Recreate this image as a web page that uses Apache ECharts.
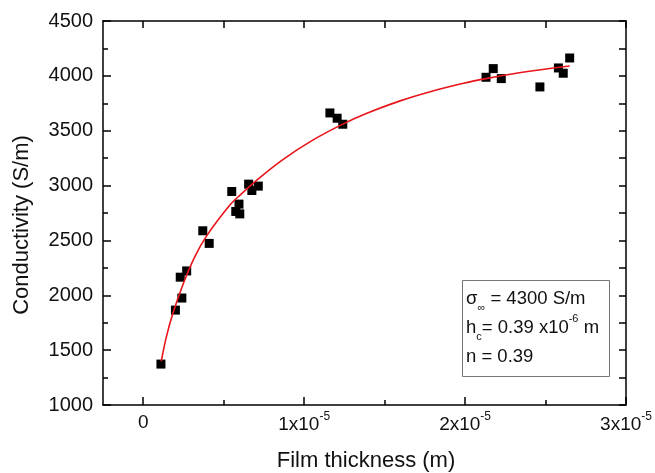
<!DOCTYPE html>
<html>
<head>
<meta charset="utf-8">
<script src="https://cdn.jsdelivr.net/npm/echarts@6/dist/echarts.min.js"></script>
<style>html,body{margin:0;padding:0;background:#fff;}#c{width:655px;height:473px;}</style>
</head>
<body>
<div id="c"></div>
<script>
// Measured points: film thickness (m) and conductivity (S/m)
const thickness = [1.1e-6, 2.0e-6, 2.4e-6, 2.3e-6, 2.7e-6, 3.7e-6, 4.1e-6, 5.5e-6, 5.95e-6, 5.75e-6, 6.0e-6, 6.55e-6, 6.75e-6, 7.15e-6, 11.6e-6, 12.05e-6, 12.4e-6, 21.3e-6, 21.75e-6, 22.25e-6, 24.65e-6, 25.8e-6, 26.1e-6, 26.5e-6];
const conductivity = [1373, 1865, 1975, 2165, 2222, 2588, 2473, 2946, 2831, 2764, 2742, 3013, 2955, 2995, 3662, 3614, 3559, 3987, 4066, 3975, 3899, 4072, 4024, 4163];

// Fit curve
const fitThickness = [1.12e-6, 1.43e-6, 1.84e-6, 2.47e-6, 3.2e-6, 3.92e-6, 5.37e-6, 6.0e-6, 7.04e-6, 8.7e-6, 10.56e-6, 12.4e-6, 13.9e-6, 15.96e-6, 17.83e-6, 19.9e-6, 21.3e-6, 23.0e-6, 24.7e-6, 26.5e-6];
const fitConductivity = [1399, 1616, 1833, 2098, 2350, 2537, 2820, 2911, 3048, 3239, 3416, 3560, 3659, 3772, 3856, 3933, 3975, 4019, 4056, 4090];

const xMajorTicks = [0, 1e-5, 2e-5, 3e-5];
const xMinorTicks = [5e-6, 1.5e-5, 2.5e-5];
const xAllTicks = [0, 5e-6, 1e-5, 1.5e-5, 2e-5, 2.5e-5, 3e-5];
const xTickLabels = ['0', '1x10{s|-5}', '2x10{s|-5}', '3x10{s|-5}'];

const font = 'Liberation Sans';
const chart = echarts.init(document.getElementById('c'));
const lineStyle = { color: '#000', width: 1.5 };
const xBase = { type: 'value', min: -2.5e-6, max: 3e-5, splitLine: { show: false } };

chart.setOption({
  animation: false,
  backgroundColor: '#fff',
  grid: { left: 103, right: 29, top: 21, bottom: 68 },
  xAxis: [
    Object.assign({}, xBase, {
      position: 'bottom',
      axisLine: { onZero: false, lineStyle: lineStyle },
      axisTick: { inside: true, length: 8, lineStyle: lineStyle, customValues: xMajorTicks },
      axisLabel: {
        customValues: xMajorTicks,
        margin: 6,
        color: '#111',
        fontFamily: font,
        fontSize: 19,
        lineHeight: 24,
        formatter: function (v) {
          const i = xMajorTicks.findIndex(t => Math.abs(t - v) < 1e-9);
          const s = i >= 0 ? xTickLabels[i] : '';
          return i > 0 ? '{a|' + s.replace('{s|', '}{s|') : s;
        },
        rich: {
          a: { fontFamily: font, fontSize: 19, lineHeight: 24, padding: [4, 0, 0, 0], color: '#111' },
          s: { fontFamily: font, fontSize: 12, lineHeight: 18, verticalAlign: 'top', color: '#111' }
        }
      }
    }),
    Object.assign({}, xBase, {
      position: 'bottom',
      axisLine: { show: false, onZero: false },
      axisTick: { inside: true, length: 5, lineStyle: lineStyle, customValues: xMinorTicks },
      axisLabel: { show: false }
    }),
    Object.assign({}, xBase, {
      position: 'top',
      axisLine: { onZero: false, lineStyle: lineStyle },
      axisTick: { inside: true, length: 7, lineStyle: lineStyle, customValues: xAllTicks },
      axisLabel: { show: false }
    })
  ],
  yAxis: [
    {
      type: 'value', position: 'left', min: 1000, max: 4500, interval: 500,
      splitLine: { show: false },
      axisLine: { show: true, onZero: false, lineStyle: lineStyle },
      axisTick: { inside: true, length: 8, lineStyle: lineStyle },
      minorTick: { show: true, splitNumber: 2, length: 5, lineStyle: lineStyle },
      axisLabel: { margin: 10, color: '#111', fontFamily: font, fontSize: 20, formatter: v => String(v) }
    },
    {
      type: 'value', position: 'right', min: 1000, max: 4500, interval: 500,
      splitLine: { show: false },
      axisLine: { show: true, onZero: false, lineStyle: lineStyle },
      axisTick: { inside: true, length: 7, lineStyle: lineStyle },
      minorTick: { show: true, splitNumber: 2, length: 7, lineStyle: lineStyle },
      axisLabel: { show: false }
    }
  ],
  series: [
    {
      type: 'scatter',
      xAxisIndex: 0, yAxisIndex: 0,
      symbol: 'rect', symbolSize: 9,
      itemStyle: { color: '#000', opacity: 1 },
      data: thickness.map((x, i) => [x, conductivity[i]]),
      z: 2
    },
    {
      type: 'line',
      xAxisIndex: 0, yAxisIndex: 0,
      smooth: 0.3,
      showSymbol: false,
      lineStyle: { color: '#e8141a', width: 1.6 },
      data: fitThickness.map((x, i) => [x, fitConductivity[i]]),
      z: 3
    }
  ],
  graphic: [
    {
      type: 'text', x: 366, y: 461,
      style: { text: 'Film thickness (m)', font: '22px "Liberation Sans"', fill: '#111', align: 'center', verticalAlign: 'middle' }
    },
    {
      type: 'text', x: 22, y: 225, rotation: Math.PI / 2,
      style: { text: 'Conductivity (S/m)', font: '22px "Liberation Sans"', fill: '#111', align: 'center', verticalAlign: 'middle' }
    },
    {
      type: 'rect',
      shape: { x: 462.5, y: 280.5, width: 147, height: 96 },
      style: { fill: '#fff', stroke: '#777', lineWidth: 1 },
      z: 10
    },
    {
      type: 'text', x: 466, y: 284.5, z: 11,
      style: {
        text: '{t|σ}{b|∞}{t| = 4300 S/m}\n{t|h}{b|c}{t|= 0.39 x10}{p|-6}{t| m}\n{t|n = 0.39}',
        align: 'left', verticalAlign: 'top',
        rich: {
          t: { fontFamily: font, fontSize: 18.5, lineHeight: 29, fill: '#111' },
          b: { fontFamily: font, fontSize: 11, lineHeight: 12, verticalAlign: 'bottom', fill: '#111' },
          p: { fontFamily: font, fontSize: 11, lineHeight: 20, verticalAlign: 'top', fill: '#111' }
        }
      }
    }
  ]
});
</script>
</body>
</html>
